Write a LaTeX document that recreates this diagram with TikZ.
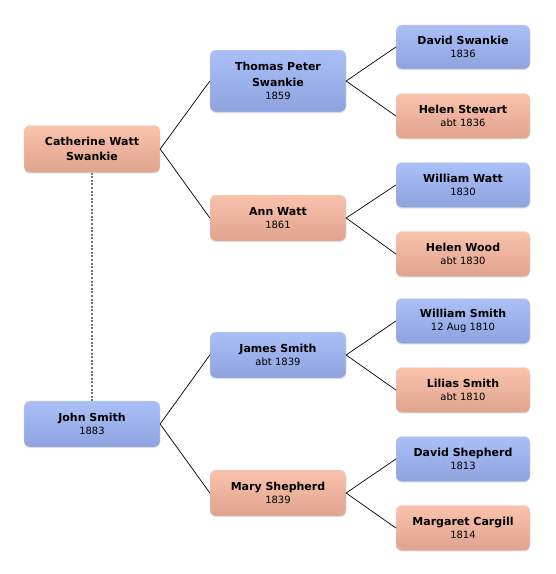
\documentclass[tikz,border=0pt]{standalone}
\usepackage{fontspec}
\setmainfont{DejaVu Sans}
\usetikzlibrary{shadows}
\definecolor{bluetop}{HTML}{ABBFF7}
\definecolor{bluebot}{HTML}{8EA2DF}
\definecolor{pinktop}{HTML}{FAC2AC}
\definecolor{pinkbot}{HTML}{DFA38E}
\newcommand{\nm}[1]{{\bfseries #1}}
\newcommand{\yr}[1]{{\fontsize{10}{13}\selectfont #1}}
\tikzset{
  x=1pt, y=-1pt,
  person/.style={rounded corners=6pt, align=center, inner sep=0pt,
    font=\fontsize{11}{15.5}\selectfont,
    drop shadow={opacity=0.2, shadow xshift=0pt, shadow yshift=-1.2pt},
    draw=black!15, line width=0.3pt},
  male/.style={person, top color=bluetop, bottom color=bluebot},
  female/.style={person, top color=pinktop, bottom color=pinkbot},
  wideA/.style={minimum width=136pt},
  wideB/.style={minimum width=134pt},
  link/.style={draw=black, line width=0.7pt},
  spouse/.style={draw=black!55, line width=1.3pt, dash pattern=on 2pt off 1.6pt}
}
\begin{document}
\begin{tikzpicture}
\useasboundingbox (0,0) rectangle (556,574);
% column 1
\node[female, wideA, minimum height=47pt] (cath) at (92,149) {\nm{Catherine Watt}\\\nm{Swankie}};
\node[male, wideA, minimum height=46pt] (john) at (92,424) {\nm{John Smith}\\[-2pt]\yr{1883}};
% column 2
\node[male, wideA, minimum height=62pt] (thomas) at (278,81) {\nm{Thomas Peter}\\\nm{Swankie}\\[-2pt]\yr{1859}};
\node[female, wideA, minimum height=46pt] (ann) at (278,218) {\nm{Ann Watt}\\[-2pt]\yr{1861}};
\node[male, wideA, minimum height=46pt] (james) at (278,355) {\nm{James Smith}\\[-2pt]\yr{abt 1839}};
\node[female, wideA, minimum height=46pt] (mary) at (278,493) {\nm{Mary Shepherd}\\[-2pt]\yr{1839}};
% column 3
\node[male, wideB, minimum height=44pt] (david) at (463,47) {\nm{David Swankie}\\[-2pt]\yr{1836}};
\node[female, wideB, minimum height=45pt] (helens) at (463,116) {\nm{Helen Stewart}\\[-2pt]\yr{abt 1836}};
\node[male, wideB, minimum height=45pt] (williamw) at (463,185) {\nm{William Watt}\\[-2pt]\yr{1830}};
\node[female, wideB, minimum height=45pt] (helenw) at (463,254) {\nm{Helen Wood}\\[-2pt]\yr{abt 1830}};
\node[male, wideB, minimum height=45pt] (williams) at (463,321) {\nm{William Smith}\\[-2pt]\yr{12 Aug 1810}};
\node[female, wideB, minimum height=45pt] (lilias) at (463,390) {\nm{Lilias Smith}\\[-2pt]\yr{abt 1810}};
\node[male, wideB, minimum height=45pt] (davids) at (463,459) {\nm{David Shepherd}\\[-2pt]\yr{1813}};
\node[female, wideB, minimum height=45pt] (margaret) at (463,528) {\nm{Margaret Cargill}\\[-2pt]\yr{1814}};
% connectors
\draw[spouse] (cath.south) -- (john.north);
\draw[link] (thomas.west) -- (cath.east) -- (ann.west);
\draw[link] (james.west) -- (john.east) -- (mary.west);
\draw[link] (david.west) -- (thomas.east) -- (helens.west);
\draw[link] (williamw.west) -- (ann.east) -- (helenw.west);
\draw[link] (williams.west) -- (james.east) -- (lilias.west);
\draw[link] (davids.west) -- (mary.east) -- (margaret.west);
\end{tikzpicture}
\end{document}
